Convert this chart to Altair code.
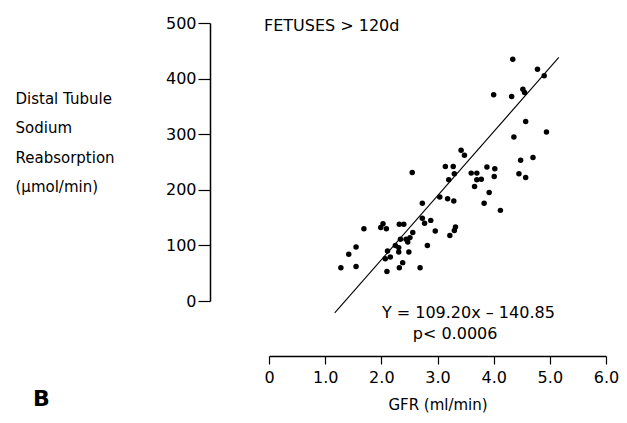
import altair as alt
import pandas as pd

# GFR (ml/min) and distal tubule sodium reabsorption (umol/min)
gfr = [4.34, 4.78, 4.90, 4.00, 4.32, 4.52, 4.55, 4.57, 4.94, 4.36,
       3.42, 3.48, 4.70, 4.48, 2.55, 3.14, 3.28, 3.30, 3.20, 3.60,
       3.70, 3.88, 4.02, 4.01, 3.70, 3.78, 3.66, 4.45, 4.57, 3.92,
       2.73, 3.04, 3.18, 3.29, 3.83, 4.12, 1.69, 2.03, 1.99, 2.09,
       2.32, 2.40, 2.73, 2.77, 2.88, 2.96, 3.32, 3.30, 3.22, 2.56,
       2.51, 2.47, 2.44, 2.34, 2.25, 2.31, 2.82, 2.11, 2.31, 2.49,
       2.07, 2.16, 1.55, 1.42, 1.28, 1.55, 2.10, 2.38, 2.32, 2.69]
reabs = [435, 417, 405, 371, 368, 381, 375, 323, 304, 295,
         271, 262, 258, 253, 231, 242, 242, 229, 218, 230,
         230, 241, 238, 224, 218, 219, 206, 229, 222, 195,
         176, 187, 184, 180, 176, 163, 130, 139, 132, 130,
         138, 138, 149, 140, 145, 126, 133, 127, 118, 123,
         114, 106, 111, 111, 100, 96, 100, 90, 88, 88,
         76, 79, 97, 84, 60, 62, 53, 69, 60, 60]

# regression line end points as drawn
line_gfr = [1.17, 5.16]
line_reabs = [-21.5, 438]

x_ticks = [0, 1, 2, 3, 4, 5, 6]
y_ticks = [0, 100, 200, 300, 400, 500]

ann_text = ["FETUSES > 120d", "Y = 109.20x  \u2013  140.85", "p< 0.0006"]
ann_gfr = [-0.09, 2.01, 2.56]
ann_reabs = [495, -21.5, -59.2]

panel_text = ["B"]
panel_gfr = [-4.2]
panel_reabs = [-176]

FONT = "DejaVu Sans"

points = pd.DataFrame({"gfr": gfr, "na": reabs})
fit = pd.DataFrame({"gfr": line_gfr, "na": line_reabs})
ann = pd.DataFrame({"gfr": ann_gfr, "na": ann_reabs, "t": ann_text})
panel = pd.DataFrame({"gfr": panel_gfr, "na": panel_reabs, "t": panel_text})

x_enc = alt.X(
    "gfr:Q",
    scale=alt.Scale(domain=[0, 6], nice=False, zero=False),
    axis=alt.Axis(
        values=x_ticks,
        labelExpr="datum.value == 0 ? '0' : format(datum.value, '.1f')",
        offset=55, grid=False,
        domainColor="black", domainWidth=1.5,
        tickColor="black", tickWidth=1.2, tickSize=8,
        labelFont=FONT, labelFontSize=16, labelColor="black", labelPadding=5,
        labelFlush=False,
        title="GFR (ml/min)", titleFont=FONT, titleFontSize=15,
        titleFontWeight="normal", titleColor="black", titlePadding=12,
    ),
)
y_enc = alt.Y(
    "na:Q",
    scale=alt.Scale(domain=[0, 500], nice=False, zero=False),
    axis=alt.Axis(
        values=y_ticks, format="d",
        offset=59, grid=False,
        domainColor="black", domainWidth=1.5,
        tickColor="black", tickWidth=1.2, tickSize=12,
        labelFont=FONT, labelFontSize=16, labelColor="black", labelPadding=2,
        labelFlush=False,
        title=["Distal Tubule", "Sodium", "Reabsorption", "(\u00b5mol/min)"],
        titleFont=FONT, titleFontSize=15, titleFontWeight="normal",
        titleColor="black", titleAngle=0, titleAlign="left",
        titleBaseline="top", titleX=-195, titleY=68, titleLineHeight=29.5,
    ),
)

dots = alt.Chart(points).mark_point(filled=True, color="black", size=30, opacity=1).encode(
    x=x_enc, y=y_enc)
line = alt.Chart(fit).mark_line(color="black", strokeWidth=1.1).encode(x=x_enc, y=y_enc)
texts = alt.Chart(ann).mark_text(align="left", baseline="middle", font=FONT,
                                  fontSize=16, color="black").encode(
    x=x_enc, y=y_enc, text="t:N")
ptext = alt.Chart(panel).mark_text(align="left", baseline="middle", font=FONT,
                                    fontSize=22, fontWeight="bold", color="black").encode(
    x=x_enc, y=y_enc, text="t:N")

chart = (
    alt.layer(line, dots, texts, ptext)
    .properties(width=337, height=278,
                autosize=alt.AutoSizeParams(type="none"),
                padding={"left": 261, "top": 15, "right": 13, "bottom": 112})
    .configure_view(stroke=None)
)

chart.save("out.html", embed_options={"renderer": "svg", "actions": False})
